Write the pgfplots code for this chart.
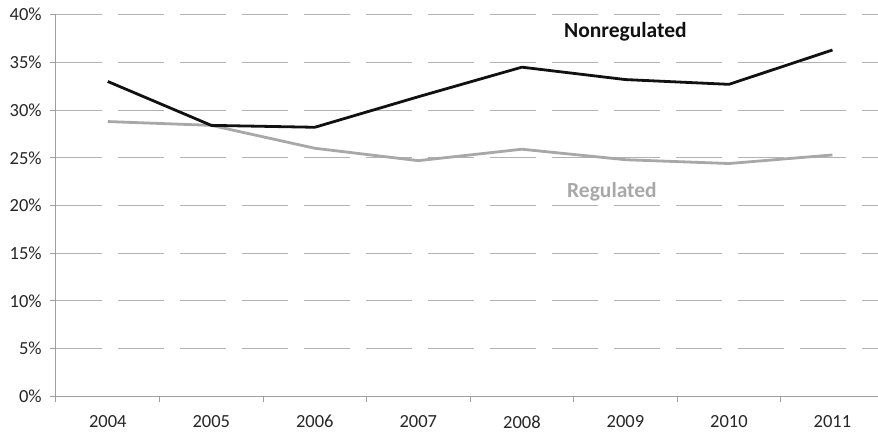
\documentclass[border=0pt]{standalone}
\usepackage{pgfplots}
\pgfplotsset{compat=1.18}
\usepackage{fontspec}
\setmainfont{Carlito}
\definecolor{gridgray}{RGB}{178,178,178}
\definecolor{axgray}{RGB}{160,160,160}
\definecolor{reggray}{RGB}{168,168,168}
\definecolor{nonblack}{RGB}{17,17,17}
\begin{document}
\fontsize{18.5}{22}\selectfont
\begin{tikzpicture}[x=1pt,y=1pt]
\begin{axis}[
  scale only axis,
  width=822pt, height=381.6pt,
  xmin=-0.5, xmax=7.44,
  ymin=0, ymax=40,
  axis lines=left,
  axis line style={axgray, line width=1pt, -},
  xtick={0,...,7},
  xticklabels={2004,2005,2006,2007,2008,2009,2010,2011},
  minor xtick={-0.5,0.5,...,6.5},
  major x tick style={draw=none},
  minor x tick style={axgray, line width=1pt},
  minor tick length=6pt,
  ytick={0,5,...,40},
  yticklabel={\pgfmathprintnumber{\tick}\%},
  major y tick style={axgray, line width=1pt},
  major tick length=6pt,
  tick align=outside,
  ymajorgrids,
  major grid style={gridgray, line width=1pt, dash pattern=on 46pt off 16pt},
  /pgf/number format/assume math mode=true,
  tick label style={font=\fontsize{18.5}{22}\selectfont, text=black!85},
  yticklabel style={xshift=-2pt},
  xticklabel style={inner sep=0pt, yshift=-13pt},
  clip=false,
]
\coordinate (sw) at (rel axis cs:0,0);
\addplot[reggray, line width=2.8pt, line join=round] coordinates {
 (0,28.8) (1,28.4) (2,26.0) (3,24.7) (4,25.9) (5,24.8) (6,24.4) (7,25.3)};
\addplot[nonblack, line width=2.8pt, line join=round] coordinates {
 (0,33.0) (1,28.4) (2,28.2) (3,31.4) (4,34.5) (5,33.2) (6,32.7) (7,36.3)};
\node[font=\bfseries\fontsize{21.5}{25}\selectfont, text=nonblack] at (axis cs:5.0,38.2) {Nonregulated};
\node[font=\bfseries\fontsize{21.5}{25}\selectfont, text=reggray] at (axis cs:4.87,21.4) {Regulated};
\end{axis}
\pgfresetboundingbox
\path[use as bounding box] ([shift={(-56pt,-35.7pt)}]sw) rectangle ++(878pt,432pt);
\end{tikzpicture}
\end{document}
